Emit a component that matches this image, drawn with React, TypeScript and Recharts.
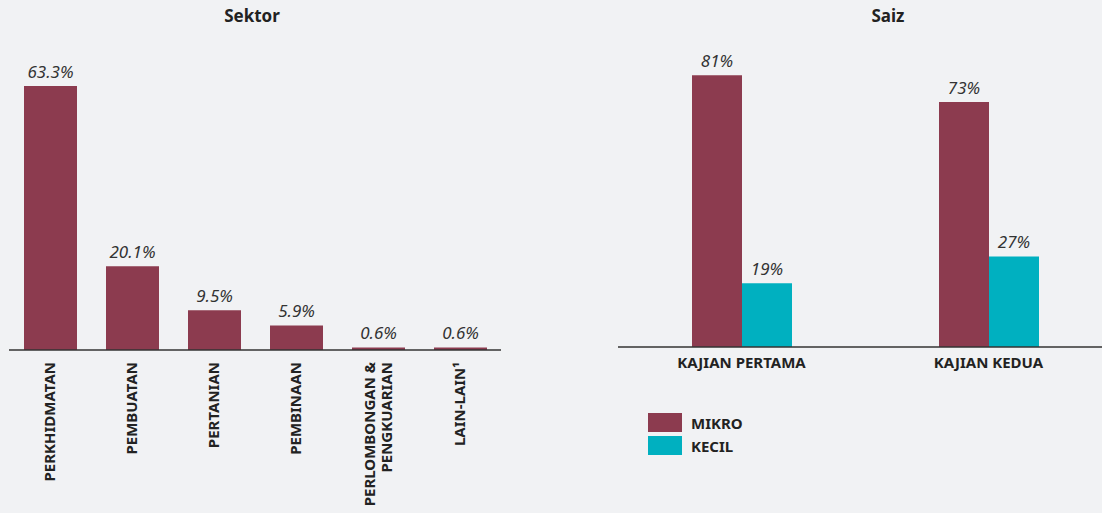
import React from 'react'
import { Bar, BarChart, LabelList, XAxis, YAxis } from 'recharts'

const sektorNames = ['PERKHIDMATAN', 'PEMBUATAN', 'PERTANIAN', 'PEMBINAAN', 'PERLOMBONGAN &\nPENGKUARIAN', 'LAIN-LAIN¹']
const sektorValues = [63.3, 20.1, 9.5, 5.9, 0.6, 0.6]

const saizNames = ['KAJIAN PERTAMA', 'KAJIAN KEDUA']
const mikroValues = [81, 73]
const kecilValues = [19, 27]
const legendNames = ['MIKRO', 'KECIL']

const MAROON = '#8c3b4f'
const TEAL = '#00b0c0'
const INK = '#222'
const FONT = '"Noto Sans", "Open Sans", sans-serif'

const sektorData = sektorNames.map((name, i) => ({ name, value: sektorValues[i] }))
const saizData = saizNames.map((name, i) => ({ name, mikro: mikroValues[i], kecil: kecilValues[i] }))

const pct = (v: any) => `${v}%`

const valueLabelStyle = { fontFamily: FONT, fontSize: 17, fontStyle: 'italic', fill: '#333' }

const RotatedTick = (props: any) => {
  const { x, y, payload } = props
  const lines = String(payload.value).split('\n')
  const lh = 17
  const start = -((lines.length - 1) * lh) / 2
  return (
    <g>
      {lines.map((ln, i) => (
        <text
          key={i}
          x={0}
          y={0}
          transform={`translate(${x + start + i * lh}, ${y + 4}) rotate(-90)`}
          textAnchor="end"
          dy="0.36em"
          fontSize={15}
          fontWeight={700}
          fill={INK}
          fontFamily={FONT}
        >
          {ln}
        </text>
      ))}
    </g>
  )
}

const titleStyle: React.CSSProperties = {
  position: 'absolute',
  top: 4,
  fontFamily: FONT,
  fontWeight: 700,
  fontSize: 17,
  color: INK,
  textAlign: 'center',
}

const App = () => {
  return (
    <div
      style={{
        position: 'fixed',
        left: 0,
        top: 0,
        width: 1102,
        height: 513,
        overflow: 'hidden',
        background: '#f1f2f4',
      }}
    >
      <div style={{ ...titleStyle, left: 152, width: 200 }}>Sektor</div>
      <div style={{ ...titleStyle, left: 788, width: 200 }}>Saiz</div>

      <div style={{ position: 'absolute', left: 0, top: 0 }}>
        <BarChart width={520} height={513} data={sektorData} margin={{ top: 58, right: 19, bottom: 0, left: 9 }}>
          <XAxis
            dataKey="name"
            height={163}
            interval={0}
            tickLine={false}
            axisLine={{ stroke: '#333', strokeWidth: 1.5 }}
            tick={<RotatedTick />}
          />
          <YAxis hide domain={[0, 70]} />
          <Bar dataKey="value" fill={MAROON} barSize={53} isAnimationActive={false}>
            <LabelList dataKey="value" position="top" offset={8} formatter={pct} style={valueLabelStyle} />
          </Bar>
        </BarChart>
      </div>

      <div style={{ position: 'absolute', left: 600, top: 0 }}>
        <BarChart
          width={512}
          height={513}
          data={saizData}
          barGap={0}
          margin={{ top: 45, right: 0, bottom: 0, left: 18 }}
        >
          <XAxis
            dataKey="name"
            height={166}
            interval={0}
            tickLine={false}
            axisLine={{ stroke: '#333', strokeWidth: 1.5 }}
            tick={{ fontFamily: FONT, fontSize: 15, fontWeight: 700, fill: INK, dy: 2 }}
          />
          <YAxis hide domain={[0, 90]} />
          <Bar dataKey="mikro" name={legendNames[0]} fill={MAROON} barSize={50} isAnimationActive={false}>
            <LabelList dataKey="mikro" position="top" offset={8} formatter={pct} style={valueLabelStyle} />
          </Bar>
          <Bar dataKey="kecil" name={legendNames[1]} fill={TEAL} barSize={50} isAnimationActive={false}>
            <LabelList dataKey="kecil" position="top" offset={8} formatter={pct} style={valueLabelStyle} />
          </Bar>
        </BarChart>
      </div>

      <div style={{ position: 'absolute', left: 648, top: 411, fontFamily: FONT }}>
        {legendNames.map((label, i) => (
          <div key={label} style={{ display: 'flex', alignItems: 'center', height: 23 }}>
            <div style={{ width: 34, height: 19, background: i === 0 ? MAROON : TEAL, marginRight: 9 }} />
            <span style={{ fontSize: 15, fontWeight: 700, color: INK }}>{label}</span>
          </div>
        ))}
      </div>
    </div>
  )
}

export default App
